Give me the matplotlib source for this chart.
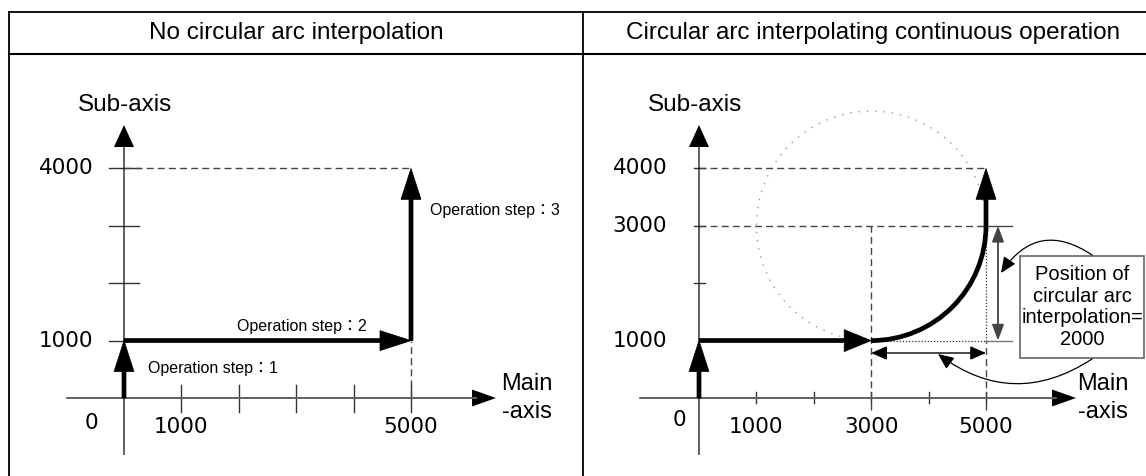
import matplotlib
matplotlib.use("Agg")
import matplotlib.pyplot as plt
from matplotlib.patches import Arc, Rectangle

# values (pulses)
titles = ["No circular arc interpolation",
          "Circular arc interpolating continuous operation"]

main_ticks_left = [1000, 2000, 3000, 4000, 5000]
sub_ticks_left = [2000, 3000, 4000]
main_labels_left = [1000, 5000]
sub_labels_left = [1000, 4000]

main_ticks_right = [1000, 2000, 3000, 4000, 5000]
sub_ticks_right = [2000, 3000, 4000]
main_labels_right = [1000, 3000, 5000]
sub_labels_right = [1000, 3000, 4000]

# left: three straight moves
step_x = [0, 0, 5000, 5000]
step_y = [0, 1000, 1000, 4000]
step_names = ["Operation step：1", "Operation step：2", "Operation step：3"]

# right: straight, arc, straight
arc_center = (3000, 3000)
arc_radius = 2000
arc_start = (3000, 1000)
arc_end = (5000, 3000)
target_y = 4000
arc_position = 2000
box_text = "Position of\ncircular arc\ninterpolation=\n" + str(arc_position)

# figure layout in pixels
W, H = 1146, 476
S = 0.0574          # pixels per pulse
Y0 = 398            # pixel row of sub-axis 0

TXT = ["Liberation Sans", "Noto Sans CJK JP", "DejaVu Sans"]
NUM = "DejaVu Sans"
NUM_FS = 15.5


def px(n):
    return n / S


fig = plt.figure(figsize=(W / 100, H / 100), dpi=100)

# frame / header table
fr = fig.add_axes([0, 0, 1, 1])
fr.set_xlim(0, W)
fr.set_ylim(H, 0)
fr.axis("off")
fr.plot([9, W], [11.5, 11.5], color="black", lw=1.3)
fr.plot([9, W], [53.5, 53.5], color="black", lw=1.5)
fr.plot([9, 9], [11.5, H], color="black", lw=1.3)
fr.plot([583, 583], [11.5, H], color="black", lw=1.3)
fr.text(296, 33, titles[0], ha="center", va="center", fontsize=17.5, family=TXT)
fr.text(873, 33, titles[1], ha="center", va="center", fontsize=17.5, family=TXT)


def panel(x0):
    ax = fig.add_axes([0, 0, 1, 1])
    ax.set_xlim(-x0 / S, (W - x0) / S)
    ax.set_ylim(-(H - Y0) / S, Y0 / S)
    ax.axis("off")
    ax.patch.set_alpha(0)
    return ax


def thick(ax, x, y, dx, dy, hw=20, hl=31):
    ax.arrow(x, y, dx, dy, width=px(4), head_width=px(hw), head_length=px(hl),
             length_includes_head=True, fc="black", ec="black", lw=0.5, zorder=5)


def axes_lines(ax, x_from, x_to):
    ax.arrow(x_from, 0, x_to - x_from, 0, width=px(1.2), head_width=px(17),
             head_length=px(24), length_includes_head=True, fc="black",
             ec="none", zorder=3)
    ax.plot([x_from, x_to - px(20)], [0, 0], color="#666666", lw=1.3, zorder=3)
    ax.arrow(0, px(398 - 455), 0, px(455 - 125), width=px(1.2), head_width=px(20),
             head_length=px(22), length_includes_head=True, fc="black",
             ec="none", zorder=3)


dash = dict(color="#444444", lw=1, linestyle=(0, (5, 3)))

# ---------------- left panel ----------------
L = panel(124)
axes_lines(L, px(67 - 124), px(496 - 124))
for t in main_ticks_left:
    L.plot([t, t], [px(-14), px(13)], color="#333333", lw=1)
for t in sub_ticks_left:
    L.plot([px(-15), px(15)], [t, t], color="#333333", lw=1)
L.plot([px(-15), 0], [1000, 1000], color="#333333", lw=1)

L.plot([0, step_x[3]], [step_y[3], step_y[3]], **dash)
L.plot([step_x[2], step_x[2]], [0, step_y[2]], **dash)

for i in range(3):
    thick(L, step_x[i], step_y[i], step_x[i + 1] - step_x[i], step_y[i + 1] - step_y[i])

L.text(px(148 - 124), px(398 - 369), step_names[0], fontsize=11.5, family=TXT,
       ha="left", va="center")
L.text(px(302 - 124), px(398 - 327), step_names[1], fontsize=11.5, family=TXT,
       ha="center", va="center")
L.text(px(430 - 124), px(398 - 210), step_names[2], fontsize=11.5, family=TXT,
       ha="left", va="center")

L.text(px(91 - 124), px(398 - 423), "0", fontsize=NUM_FS, family=NUM, ha="center", va="center")
for v in main_labels_left:
    L.text(v, px(398 - 427), str(v), fontsize=NUM_FS, family=NUM, ha="center", va="center")
for v in sub_labels_left:
    L.text(px(66 - 124), v, str(v), fontsize=NUM_FS, family=NUM, ha="center", va="center")
L.text(px(125 - 124), px(398 - 105), "Sub-axis", fontsize=17.5, family=TXT, ha="center", va="center")
L.text(px(527 - 124), px(398 - 398), "Main\n-axis", fontsize=17, family=TXT,
       ha="center", va="center", linespacing=1.3)

# ---------------- right panel ----------------
R = panel(699)
axes_lines(R, px(640 - 699), px(1076 - 699))
for t in main_ticks_right:
    R.plot([t, t], [px(-5), px(6)], color="#333333", lw=1)
for t in sub_ticks_right:
    R.plot([px(-5), px(6)], [t, t], color="#333333", lw=1)

# dashed guide lines
R.plot([0, arc_end[0]], [target_y, target_y], **dash)
R.plot([0, arc_end[0]], [arc_end[1], arc_end[1]], **dash)
R.plot([arc_start[0], arc_start[0]], [px(-12), arc_center[1]], **dash)
R.plot([arc_end[0], arc_end[0]], [px(-12), arc_start[1]], **dash)
# dotted helpers
R.add_patch(Arc(arc_center, 2 * arc_radius, 2 * arc_radius, theta1=0, theta2=270,
                color="#999999", lw=1, linestyle=(0, (1, 5))))
R.plot([arc_start[0], arc_end[0]], [arc_start[1], arc_start[1]], color="#333333",
       lw=0.9, linestyle=(0, (1, 1.5)))
R.plot([arc_end[0], arc_end[0]], [arc_start[1], arc_end[1]], color="#333333",
       lw=0.9, linestyle=(0, (1, 1.5)))
# extension lines for the dimension
ext = px(1012 - 699)
R.plot([arc_end[0], ext], [arc_end[1], arc_end[1]], color="#444444", lw=1)
R.plot([arc_end[0], ext], [arc_start[1], arc_start[1]], color="#777777", lw=1)

# path
thick(R, 0, 0, 0, arc_start[1])
thick(R, 0, arc_start[1], arc_start[0], 0, hw=22, hl=27)
R.add_patch(Arc(arc_center, 2 * arc_radius, 2 * arc_radius, theta1=270, theta2=360,
                color="black", lw=3.4, zorder=5))
thick(R, arc_end[0], arc_end[1], 0, target_y - arc_end[1])

# dimension arrows
dim_x = px(998 - 699)
dim_y = px(398 - 353)
R.annotate("", xy=(dim_x, arc_start[1]), xytext=(dim_x, arc_end[1]),
           arrowprops=dict(arrowstyle="<|-|>,head_length=0.8,head_width=0.3",
                           mutation_scale=12, color="#444444", lw=1.3,
                           shrinkA=0, shrinkB=0))
R.annotate("", xy=(arc_start[0], dim_y), xytext=(arc_end[0], dim_y),
           arrowprops=dict(arrowstyle="<|-|>,head_length=0.8,head_width=0.35",
                           mutation_scale=12, color="black", lw=1,
                           shrinkA=0, shrinkB=0))

# note box
bx0, bx1 = px(1020 - 699), px(1144 - 699)
by0, by1 = px(398 - 358), px(398 - 256)
R.add_patch(Rectangle((bx0, by0), bx1 - bx0, by1 - by0, fill=False,
                      ec="#666666", lw=1.2))
R.text((bx0 + bx1) / 2, (by0 + by1) / 2, box_text, fontsize=14.5, family=TXT,
       ha="center", va="center", linespacing=1.18)

# curved pointers from the box
R.annotate("", xy=(px(1001 - 699), px(398 - 273)), xytext=(px(1092 - 699), px(398 - 255)),
           arrowprops=dict(arrowstyle="-|>,head_length=0.8,head_width=0.35",
                           mutation_scale=12, color="black", lw=0.9,
                           connectionstyle="arc3,rad=0.5", shrinkA=0, shrinkB=0))
R.annotate("", xy=(px(938 - 699), px(398 - 354)), xytext=(px(1092 - 699), px(398 - 359)),
           arrowprops=dict(arrowstyle="-|>,head_length=0.8,head_width=0.35",
                           mutation_scale=12, color="black", lw=0.9,
                           connectionstyle="arc3,rad=-0.35", shrinkA=0, shrinkB=0))

R.text(px(679 - 699), px(398 - 420), "0", fontsize=NUM_FS, family=NUM, ha="center", va="center")
for v in main_labels_right:
    R.text(v, px(398 - 427), str(v), fontsize=NUM_FS, family=NUM, ha="center", va="center")
for v in sub_labels_right:
    R.text(px(640 - 699), v, str(v), fontsize=NUM_FS, family=NUM, ha="center", va="center")
R.text(px(695 - 699), px(398 - 105), "Sub-axis", fontsize=17.5, family=TXT, ha="center", va="center")
R.text(px(1103 - 699), px(398 - 398), "Main\n-axis", fontsize=17, family=TXT,
       ha="center", va="center", linespacing=1.3)

fig.savefig("out.png", dpi=100)
